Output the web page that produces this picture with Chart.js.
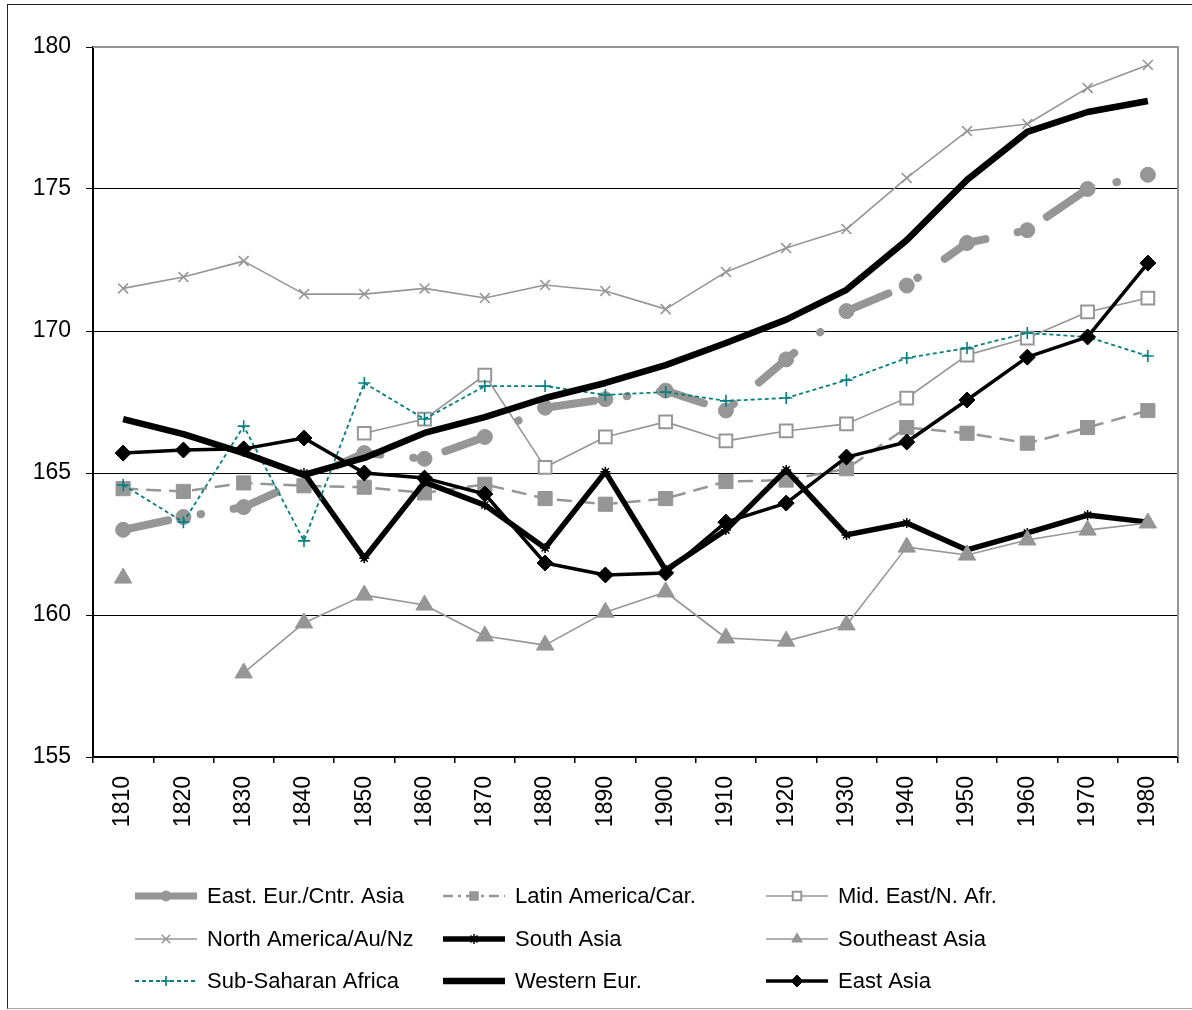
<!DOCTYPE html>
<html>
<head>
<meta charset="utf-8">
<title>Heights 1810-1980</title>
<script src="https://cdn.jsdelivr.net/npm/chart.js@4.4.1/dist/chart.umd.min.js"></script>
<style>
  html, body { margin: 0; padding: 0; background: #fff; }
  #wrap { position: relative; width: 1192px; height: 1010px; overflow: hidden; }
  #heightChart { position: absolute; left: 0; top: 0; }
  #frame {
    position: absolute; left: 7px; top: 4px; width: 1200px; height: 1003px;
    border-left: 1px solid #222; border-top: 1px solid #222; border-bottom: 1px solid #aaa;
    pointer-events: none;
  }
</style>
</head>
<body>
<div id="wrap">
  <canvas id="heightChart" width="1192" height="1010"></canvas>
  <div id="frame"></div>
</div>
<script>
// data (average height, cm)
const years = ['1810', '1820', '1830', '1840', '1850', '1860', '1870', '1880', '1890',
               '1900', '1910', '1920', '1930', '1940', '1950', '1960', '1970', '1980'];

const eastEurCntrAsia  = [163.0, 163.45, 163.8, null, 165.7, 165.5, 166.27, 167.3, 167.6,
                          167.9, 167.2, 169.0, 170.7, 171.6, 173.1, 173.55, 175.0, 175.5];
const latinAmericaCar  = [164.45, 164.35, 164.65, 164.55, 164.5, 164.3, 164.6, 164.1, 163.9,
                          164.1, 164.7, 164.75, 165.15, 166.6, 166.4, 166.05, 166.6, 167.2];
const midEastNAfr      = [null, null, null, null, 166.4, 166.9, 168.45, 165.2, 166.27,
                          166.8, 166.13, 166.48, 166.73, 167.64, 169.15, 169.75, 170.67, 171.16];
const northAmericaAuNz = [171.5, 171.9, 172.46, 171.3, 171.3, 171.5, 171.16, 171.62, 171.41,
                          170.77, 172.08, 172.92, 173.59, 175.39, 177.04, 177.29, 178.56, 179.37];
const southAsia        = [null, null, null, 165.0, 162.0, 164.68, 163.87, 162.36, 165.04,
                          161.58, 162.99, 165.11, 162.82, 163.24, 162.29, 162.89, 163.52, 163.27];
const southeastAsia    = [161.3, null, 157.96, 159.72, 160.7, 160.35, 159.26, 158.94, 160.1,
                          160.81, 159.19, 159.08, 159.65, 162.39, 162.11, 162.64, 162.99, 163.24];
const subSaharanAfrica = [164.58, 163.27, 166.65, 162.61, 168.17, 166.9, 168.06, 168.06, 167.75,
                          167.85, 167.54, 167.64, 168.27, 169.05, 169.4, 169.93, 169.79, 169.12];
const westernEur       = [166.9, 166.37, 165.7, 164.93, 165.53, 166.41, 166.97, 167.64, 168.17,
                          168.8, 169.58, 170.4, 171.45, 173.2, 175.32, 177.01, 177.71, 178.1];
const eastAsia         = [165.7, 165.81, 165.85, 166.23, 165.0, 164.82, 164.26, 161.83, 161.41,
                          161.48, 163.27, 163.94, 165.56, 166.09, 167.57, 169.08, 169.79, 172.39];

const yMin = 155, yMax = 180, yStep = 5;

// colours / layout
const GREY = '#969696';
const TEAL = '#008080';
const FONT = '"Liberation Sans", Arial, sans-serif';
const legendColX = [135, 443, 766];
const legendRowY = [896, 939, 981];

function series(label, data, s) {
  return {
    label: label,
    data: data,
    borderColor: s.color,
    backgroundColor: s.fill || s.color,
    borderWidth: s.width,
    borderDash: s.dash || [],
    borderCapStyle: s.cap || 'butt',
    borderJoinStyle: 'round',
    tension: 0,
    spanGaps: !!s.spanGaps,
    pointStyle: s.point || false,
    pointRadius: s.point ? s.radius : 0,
    pointHoverRadius: s.point ? s.radius : 0,
    pointBackgroundColor: s.pointFill || s.color,
    pointBorderColor: s.color,
    pointBorderWidth: s.pointBorder || 1,
    legendWidth: s.legendWidth || s.width,
    legendDash: s.legendDash || [],
    legendRadius: s.legendRadius || 0,
    order: -s.idx
  };
}

const datasets = [
  series('East. Eur./Cntr. Asia', eastEurCntrAsia, { idx: 0, color: GREY, width: 8, dash: [46, 33, 0.5, 33], cap: 'round', spanGaps: true, point: 'circle', radius: 7.5, legendWidth: 7, legendRadius: 5 }),
  series('Latin America/Car.', latinAmericaCar, { idx: 1, color: GREY, width: 2.5, dash: [15, 8], point: 'rect', radius: 10, legendDash: [10, 5, 3, 5], legendRadius: 6 }),
  series('Mid. East/N. Afr.', midEastNAfr, { idx: 2, color: GREY, width: 1.6, point: 'rect', radius: 9, pointFill: '#fff', pointBorder: 2, legendRadius: 6 }),
  series('North America/Au/Nz', northAmericaAuNz, { idx: 3, color: GREY, width: 1.6, point: 'crossRot', radius: 7, pointBorder: 1.6, legendRadius: 6 }),
  series('South Asia', southAsia, { idx: 4, color: '#000', width: 5.5, point: 'star', radius: 5, pointBorder: 1.5, legendRadius: 5 }),
  series('Southeast Asia', southeastAsia, { idx: 5, color: GREY, width: 1.6, point: 'triangle', radius: 10, legendRadius: 6 }),
  series('Sub-Saharan Africa', subSaharanAfrica, { idx: 6, color: TEAL, width: 1.8, dash: [4, 3], point: 'cross', radius: 6, pointBorder: 1.6, legendDash: [4, 3], legendRadius: 5 }),
  series('Western Eur.', westernEur, { idx: 7, color: '#000', width: 6.5 }),
  series('East Asia', eastAsia, { idx: 8, color: '#000', width: 3.5, point: 'rectRot', radius: 8, legendRadius: 6 })
];

// plot border on the top and right, like the original
const plotBorder = {
  id: 'plotBorder',
  beforeDatasetsDraw(chart) {
    const a = chart.chartArea, ctx = chart.ctx;
    ctx.save();
    ctx.strokeStyle = GREY;
    ctx.lineWidth = 2;
    ctx.beginPath();
    ctx.moveTo(a.left, a.top);
    ctx.lineTo(a.right, a.top);
    ctx.lineTo(a.right, a.bottom);
    ctx.stroke();
    ctx.restore();
  }
};

// legend in 3 columns, drawn under the axis
const gridLegend = {
  id: 'gridLegend',
  afterDraw(chart) {
    const ctx = chart.ctx;
    ctx.save();
    chart.data.datasets.forEach((ds, i) => {
      const x0 = legendColX[i % 3];
      const y = legendRowY[Math.floor(i / 3)];
      ctx.save();
      ctx.strokeStyle = ds.borderColor;
      ctx.lineWidth = ds.legendWidth;
      ctx.setLineDash(ds.legendDash);
      ctx.lineCap = 'butt';
      ctx.beginPath();
      ctx.moveTo(x0, y);
      ctx.lineTo(x0 + 62, y);
      ctx.stroke();
      ctx.setLineDash([]);
      if (ds.pointStyle) {
        ctx.fillStyle = ds.pointBackgroundColor;
        ctx.strokeStyle = ds.pointBorderColor;
        ctx.lineWidth = ds.pointBorderWidth;
        Chart.helpers.drawPoint(ctx, {
          pointStyle: ds.pointStyle,
          radius: ds.legendRadius,
          rotation: 0,
          borderWidth: ds.pointBorderWidth
        }, x0 + 31, y);
      }
      ctx.restore();
      ctx.fillStyle = '#000';
      ctx.font = '22px ' + FONT;
      ctx.textBaseline = 'middle';
      ctx.textAlign = 'left';
      ctx.fillText(ds.label, x0 + 72, y + 1);
    });
    ctx.restore();
  }
};

Chart.defaults.font.family = FONT;
Chart.defaults.color = '#000';

new Chart(document.getElementById('heightChart'), {
  type: 'line',
  data: { labels: years, datasets: datasets },
  options: {
    responsive: false,
    animation: false,
    layout: { padding: { top: 47, right: 14, left: 0, bottom: 0 } },
    plugins: {
      legend: { display: false },
      tooltip: { enabled: false }
    },
    scales: {
      x: {
        type: 'category',
        offset: true,
        border: { color: '#000', width: 2 },
        grid: { display: true, drawOnChartArea: false, drawTicks: true, tickLength: 6, offset: true, color: '#000', lineWidth: 1.5 },
        ticks: { autoSkip: false, maxRotation: 90, minRotation: 90, padding: 13, font: { size: 23 }, color: '#000' },
        afterFit(scale) { scale.height = 253; }
      },
      y: {
        min: yMin,
        max: yMax,
        border: { color: '#000', width: 2 },
        grid: {
          color: (c) => (c.tick && c.tick.value === yMax) ? GREY : '#000',
          lineWidth: 1,
          tickLength: 7,
          tickColor: '#000'
        },
        ticks: { stepSize: yStep, padding: 15, font: { size: 23 }, color: '#000' },
        afterFit(scale) { scale.width = 93; }
      }
    }
  },
  plugins: [plotBorder, gridLegend]
});
</script>
</body>
</html>
